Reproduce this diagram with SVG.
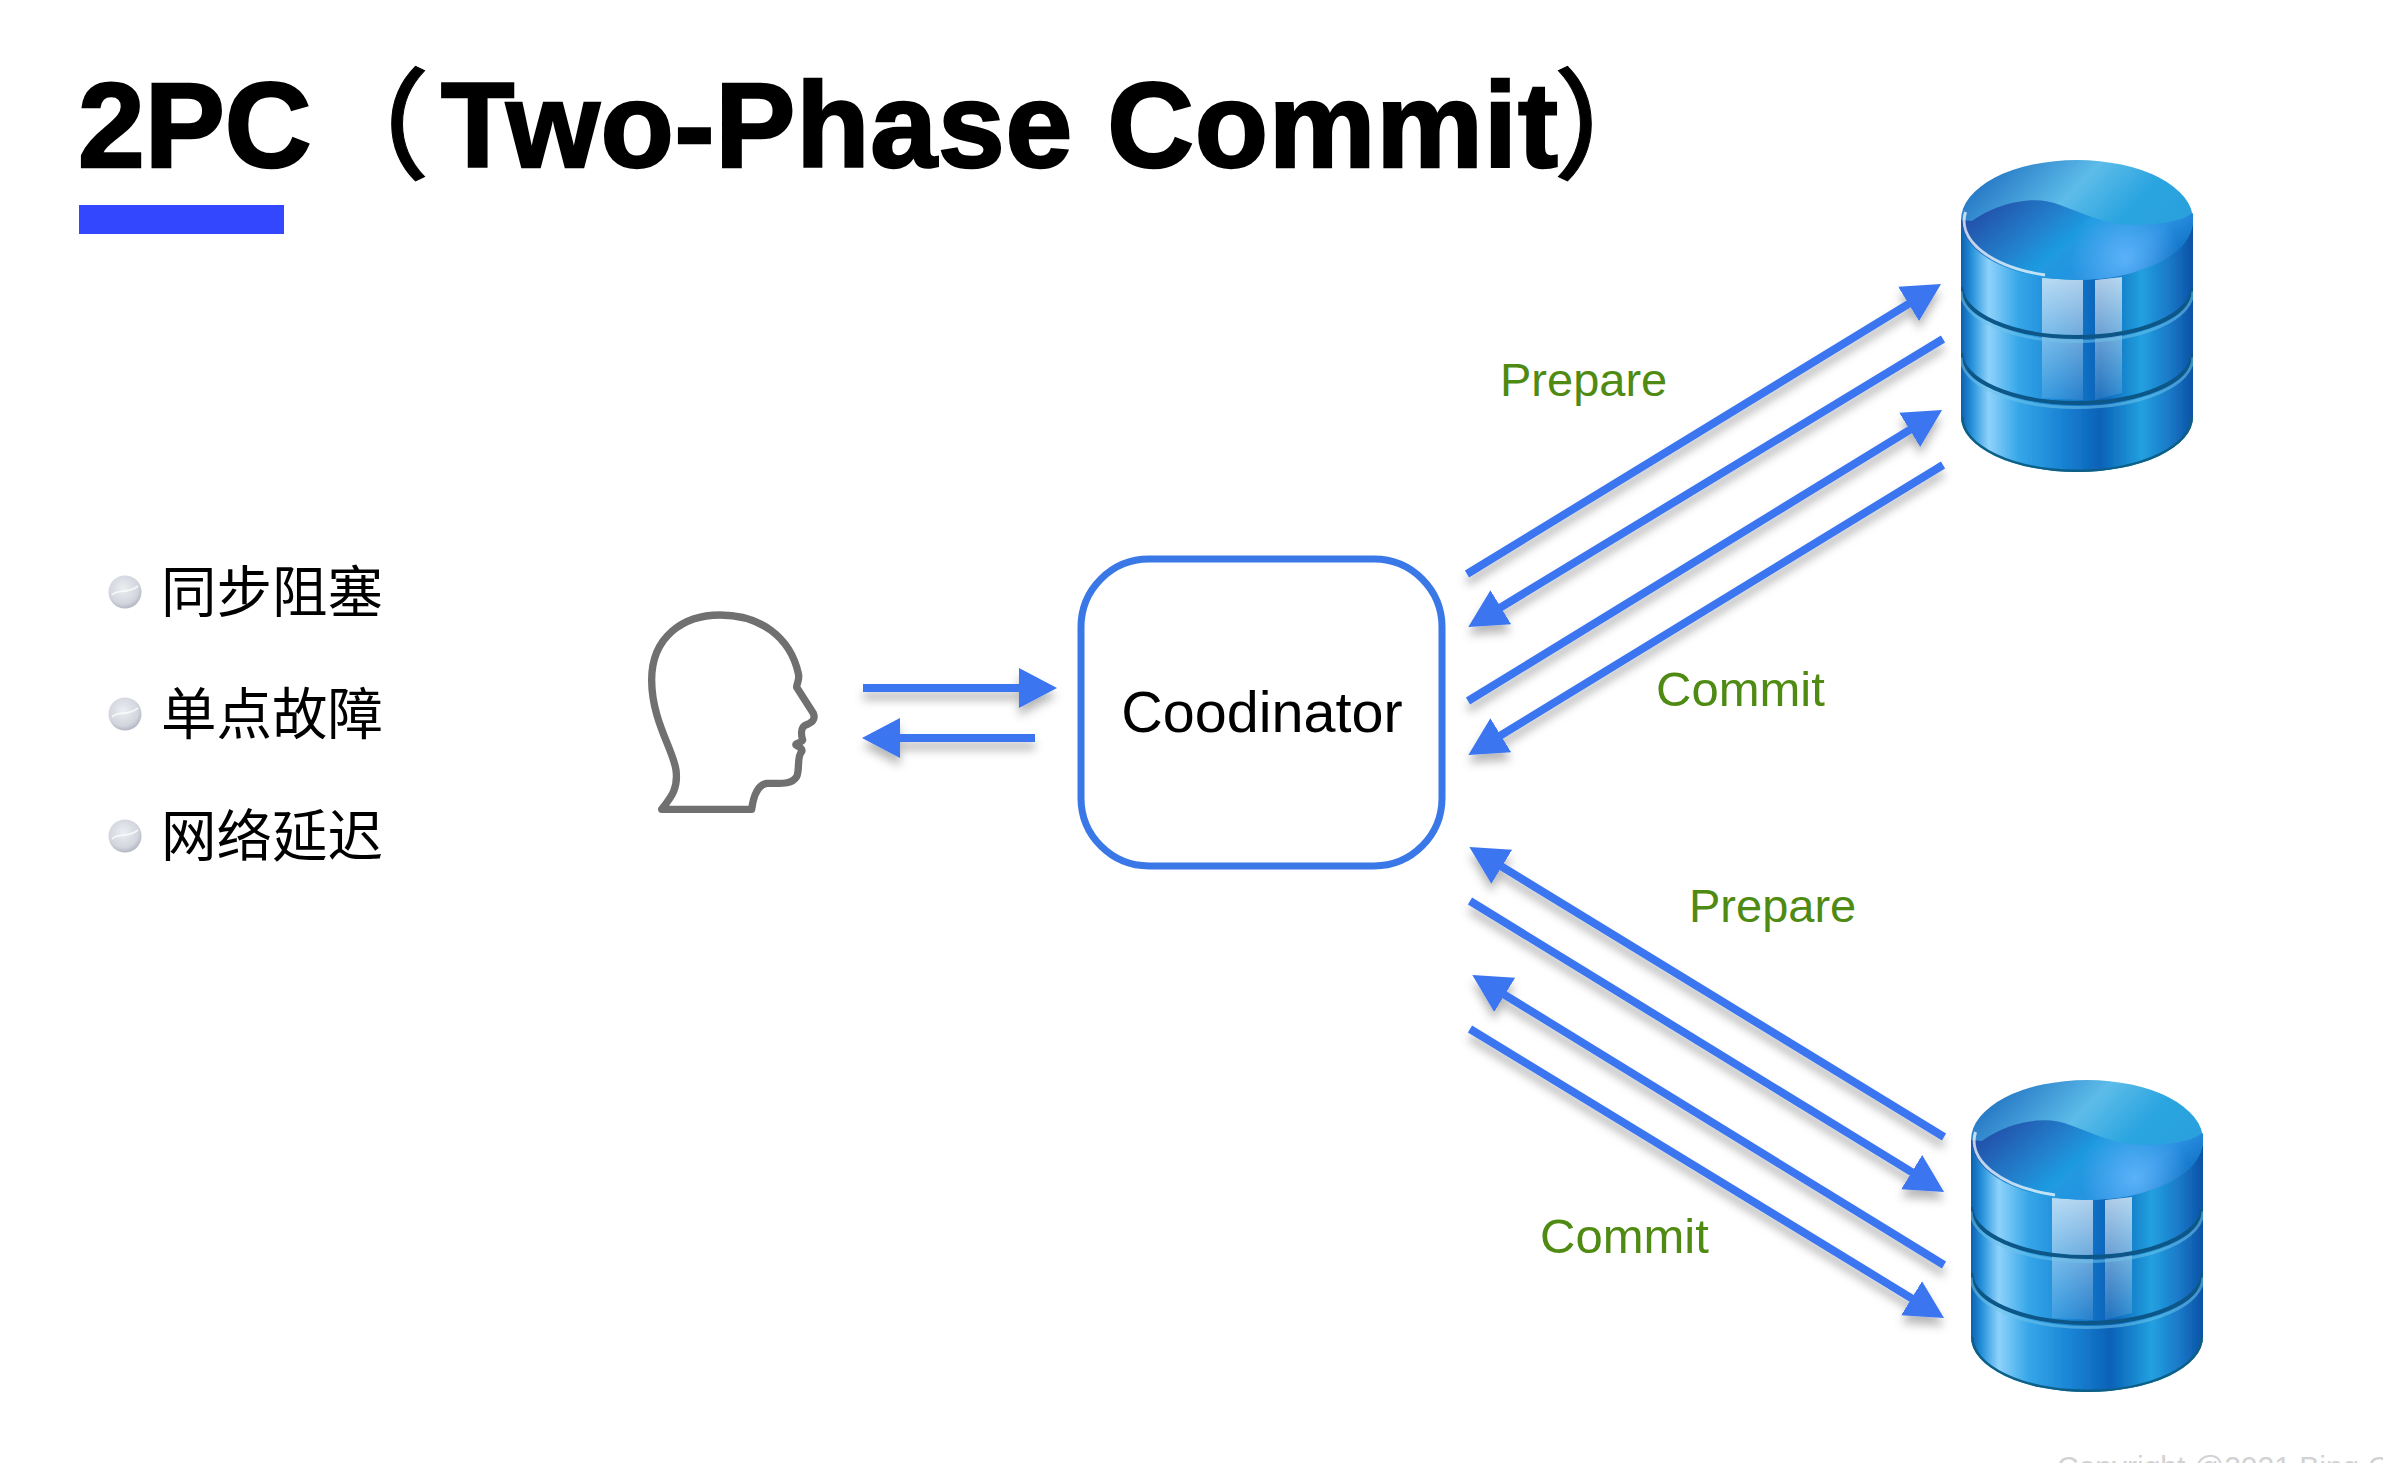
<svg xmlns="http://www.w3.org/2000/svg" width="2383" height="1463" viewBox="0 0 2383 1463">
<style>
.lat{font-family:"Liberation Sans",Arial,sans-serif}
.cjk{font-family:"Noto Sans CJK SC",sans-serif;font-size:55.5px;font-weight:400;fill:#000}
.green{font-family:"Liberation Sans",Arial,sans-serif;fill:#4f8a12}
.arrow{fill:none;stroke:#3a75f0;stroke-width:8;marker-end:url(#head)}
</style>
<defs>
<marker id="head" markerUnits="userSpaceOnUse" markerWidth="40" markerHeight="42" refX="2" refY="21" orient="auto"><path d="M0,1 L38,21 L0,41 Z" fill="#3a75f0"/></marker>
<filter id="shadow" x="-10%" y="-10%" width="120%" height="130%"><feDropShadow dx="0" dy="8" stdDeviation="5" flood-color="#000" flood-opacity="0.28"/></filter>
<filter id="soft" x="-5%" y="-5%" width="110%" height="110%"><feGaussianBlur stdDeviation="0.7"/></filter>
<clipPath id="bodyClip"><path d="M1961,220 L1961,417 A116,55 0 0 0 2193,417 L2193,220 Z"/></clipPath>
<linearGradient id="side" x1="0" x2="1" y1="0" y2="0">
<stop offset="0" stop-color="#0b5fb0"/><stop offset=".05" stop-color="#2a94dc"/><stop offset=".12" stop-color="#8ed2fb"/><stop offset=".25" stop-color="#35a6e8"/><stop offset=".42" stop-color="#1b86d6"/><stop offset=".6" stop-color="#0a62b8"/><stop offset=".78" stop-color="#22a0e0"/><stop offset=".9" stop-color="#1a78c8"/><stop offset="1" stop-color="#0a52a5"/>
</linearGradient>
<linearGradient id="topBack" x1="0" x2="1" y1="0.1" y2="0.6">
<stop offset="0" stop-color="#1766bb"/><stop offset=".45" stop-color="#5dbce9"/><stop offset=".7" stop-color="#2ba5e0"/><stop offset="1" stop-color="#2a9fdc"/>
</linearGradient>
<linearGradient id="wave" x1="0" x2="1" y1="0.2" y2="0.6">
<stop offset="0" stop-color="#234aa5"/><stop offset=".5" stop-color="#1f9ae0"/><stop offset=".8" stop-color="#2a8fe0"/><stop offset="1" stop-color="#0f6fc4"/>
</linearGradient>
<radialGradient id="spot" gradientUnits="userSpaceOnUse" cx="2125" cy="258" r="55">
<stop offset="0" stop-color="#60b6fb" stop-opacity=".9"/><stop offset="1" stop-color="#60b6fb" stop-opacity="0"/>
</radialGradient>
<linearGradient id="stripe" x1="0" x2="0" y1="0" y2="1">
<stop offset="0" stop-color="#fff" stop-opacity=".68"/><stop offset=".55" stop-color="#fff" stop-opacity=".35"/><stop offset="1" stop-color="#fff" stop-opacity=".1"/>
</linearGradient>
<radialGradient id="ball" cx=".45" cy=".4" r=".65">
<stop offset="0" stop-color="#eceef2"/><stop offset=".7" stop-color="#d2d5dd"/><stop offset="1" stop-color="#a9adba"/>
</radialGradient>
<g id="db" filter="url(#soft)">
<path d="M1961,220 L1961,417 A116,55 0 0 0 2193,417 L2193,220 Z" fill="url(#side)"/>
<path d="M2042,278 L2083,280 L2083,400 L2042,398 Z M2095,280 L2122,277 L2122,393 L2095,400 Z" fill="url(#stripe)"/>
<g clip-path="url(#bodyClip)" fill="none">
<path d="M1961,287 A116,50 0 0 0 2193,287" stroke="#0a5688" stroke-width="4"/>
<path d="M1961,291.500 A116,50 0 0 0 2193,291.500" stroke="#6fc2ea" stroke-opacity=".55" stroke-width="3"/>
<path d="M1961,353 A116,50 0 0 0 2193,353" stroke="#0a5688" stroke-width="4"/>
<path d="M1961,357.500 A116,50 0 0 0 2193,357.500" stroke="#6fc2ea" stroke-opacity=".55" stroke-width="3"/>
<path d="M1961,417 A116,55 0 0 0 2193,417" stroke="#0a5f86" stroke-width="5"/>
</g>
<ellipse cx="2077" cy="220" rx="116" ry="60" fill="url(#topBack)"/>
<path d="M1972,221 C1993,205 2033,193 2060,205 C2087,215 2107,225 2133,225 C2157,225 2180,222 2193,213 L2193,220 A116,60 0 0 1 1961,220 Z" fill="url(#wave)"/>
<path d="M1972,221 C1993,205 2033,193 2060,205 C2087,215 2107,225 2133,225 C2157,225 2180,222 2193,213 L2193,220 A116,60 0 0 1 1961,220 Z" fill="url(#spot)"/>
<path d="M1965.500,212 A112,56.500 0 0 0 2045,275" fill="none" stroke="#fff" stroke-opacity=".72" stroke-width="3"/>
</g>
<g id="bullet"><circle cx="0" cy="0" r="16.5" fill="url(#ball)"/><path d="M-13,3 C-6,-4 2,3 13,-6" fill="none" stroke="#fff" stroke-opacity=".7" stroke-width="2"/></g>
</defs>
<rect width="2383" height="1463" fill="#fff"/>
<g id="title">
<text class="lat" y="167" font-size="120" font-weight="700" fill="#000" stroke="#000" stroke-width="2.500"><tspan x="78">2PC</tspan><tspan x="441" textLength="1117">Two-Phase Commit</tspan></text>
<text y="170" font-size="120" font-weight="500" fill="#000" stroke="#000" stroke-width="1" font-family="'Noto Sans CJK SC',sans-serif"><tspan x="310">（</tspan><tspan x="1553">）</tspan></text>
<rect x="79" y="205" width="205" height="29" fill="#3347ff"/>
</g>
<g id="bullets">
<use href="#bullet" x="125" y="592"/><use href="#bullet" x="125" y="714"/><use href="#bullet" x="125" y="836"/>
<text class="cjk" x="161" y="612">同步阻塞</text>
<text class="cjk" x="161" y="734">单点故障</text>
<text class="cjk" x="161" y="856">网络延迟</text>
</g>
<g id="person">
<path transform="translate(600,580) scale(0.3333)" d="M185,688 C215,650 235,625 228,570 C220,510 155,420 155,300 C155,170 250,105 360,105 C480,105 570,170 595,280 C600,300 590,310 590,322 L640,400 C648,420 635,428 615,436 C600,445 605,470 608,480 C605,490 585,488 588,495 C595,500 610,505 605,515 C590,530 600,570 590,590 C575,615 540,610 500,610 C470,615 460,650 455,688 Z" fill="none" stroke="#707070" stroke-width="22" stroke-linejoin="round"/>
</g>
<g id="coordinator">
<rect x="1081" y="559" width="361" height="307" rx="68" ry="68" fill="#fff" stroke="#3b78e7" stroke-width="7"/>
<text class="lat" x="1262" y="732" font-size="57.500" text-anchor="middle" fill="#000">Coodinator</text>
</g>
<g id="db-top"><use href="#db"/></g>
<g id="db-bottom"><use href="#db" x="10" y="920"/></g>
<g id="connectors" filter="url(#shadow)">
<line class="arrow" x1="863" y1="688" x2="1021" y2="688"/>
<line class="arrow" x1="1035" y1="738" x2="898" y2="738"/>
<line class="arrow" x1="1467" y1="574" x2="1910.3" y2="302.800"/>
<line class="arrow" x1="1943" y1="339" x2="1499.100" y2="608.300"/>
<line class="arrow" x1="1468" y1="701" x2="1911.400" y2="428.800"/>
<line class="arrow" x1="1943" y1="465" x2="1499.100" y2="736.300"/>
<line class="arrow" x1="1944" y1="1137" x2="1500.100" y2="865.700"/>
<line class="arrow" x1="1470" y1="901" x2="1913.400" y2="1173.200"/>
<line class="arrow" x1="1944" y1="1265" x2="1503" y2="993.800"/>
<line class="arrow" x1="1470" y1="1029" x2="1913.300" y2="1299.300"/>
</g>
<g id="labels">
<text class="green" x="1500" y="396" font-size="47">Prepare</text>
<text class="green" x="1656" y="706" font-size="49">Commit</text>
<text class="green" x="1689" y="922" font-size="47">Prepare</text>
<text class="green" x="1540" y="1253" font-size="49">Commit</text>
</g>
<text id="copyright" class="lat" x="2057" y="1477" font-size="30" fill="#d2d2d2">Copyright @2021 Bing C</text>
</svg>
